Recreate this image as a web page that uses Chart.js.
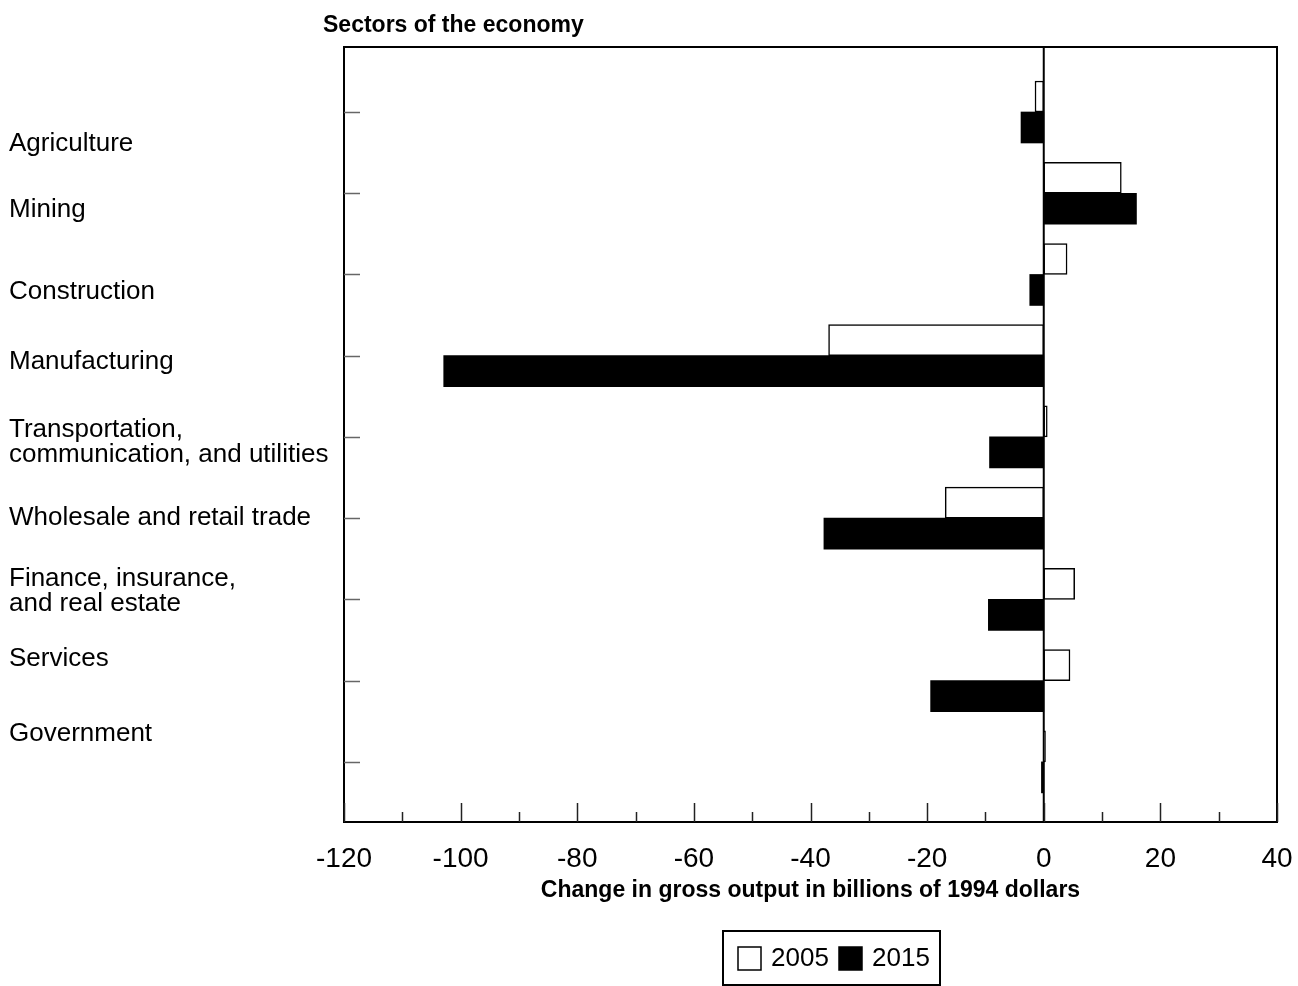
<!DOCTYPE html>
<html lang="en">
<head>
<meta charset="UTF-8" />
<title>Sectors of the economy</title>
<script src="https://cdn.jsdelivr.net/npm/chart.js"></script>
<style>
  body { margin: 0; background: #fff; }
  canvas { display: block; }
</style>
</head>
<body>
<canvas id="chart" width="1298" height="986"></canvas>
<script>
// data (billions of 1994 dollars)
const sectors = [
  ['Agriculture'],
  ['Mining'],
  ['Construction'],
  ['Manufacturing'],
  ['Transportation,', 'communication, and utilities'],
  ['Wholesale and retail trade'],
  ['Finance, insurance,', 'and real estate'],
  ['Services'],
  ['Government']
];
const years = ['2005', '2015'];
const change2005 = [-1.5, 13.3, 4.0, -36.9, 0.6, -16.9, 5.3, 4.5, 0.3];
const change2015 = [-3.9, 15.9, -2.4, -102.9, -9.3, -37.7, -9.5, -19.4, -0.4];
const xTicks = [-120, -100, -80, -60, -40, -20, 0, 20, 40];
const xMinorTicks = [-110, -90, -70, -50, -30, -10, 10, 30];

// label placement relative to each category tick (px)
const labelShift = [32, 17, 17, 6, 5, 0, -8, -22, -28];
const FONT = '"Liberation Sans", Arial, sans-serif';

const toPoints = vals => vals.map((v, i) => ({ x: v, y: i }));

const decor = {
  id: 'decor',
  afterDatasetsDraw(chart) {
    const { ctx, chartArea: a, scales: { x, y } } = chart;
    ctx.save();

    // zero line
    const x0 = x.getPixelForValue(0);
    ctx.strokeStyle = '#000';
    ctx.lineWidth = 2;
    ctx.beginPath();
    ctx.moveTo(x0, a.top);
    ctx.lineTo(x0, a.bottom);
    ctx.stroke();

    // frame
    ctx.lineWidth = 2;
    ctx.strokeRect(a.left, a.top, a.right - a.left, a.bottom - a.top);

    // x tick marks inside the frame
    ctx.strokeStyle = '#222';
    ctx.lineWidth = 1.5;
    xTicks.forEach(v => {
      const px = Math.round(x.getPixelForValue(v)) + 0.5;
      ctx.beginPath();
      ctx.moveTo(px, a.bottom);
      ctx.lineTo(px, a.bottom - 19);
      ctx.stroke();
    });
    xMinorTicks.forEach(v => {
      const px = Math.round(x.getPixelForValue(v)) + 0.5;
      ctx.beginPath();
      ctx.moveTo(px, a.bottom);
      ctx.lineTo(px, a.bottom - 10);
      ctx.stroke();
    });

    // y tick marks (one per category)
    ctx.strokeStyle = '#666';
    sectors.forEach((s, i) => {
      const py = Math.round(y.getPixelForValue(i)) + 0.5;
      ctx.beginPath();
      ctx.moveTo(a.left, py);
      ctx.lineTo(a.left + 16, py);
      ctx.stroke();
    });

    // category labels
    ctx.fillStyle = '#000';
    ctx.font = '26px ' + FONT;
    ctx.textAlign = 'left';
    ctx.textBaseline = 'middle';
    sectors.forEach((lines, i) => {
      const cy = y.getPixelForValue(i) + labelShift[i];
      const start = cy - (lines.length - 1) * 12.5;
      lines.forEach((t, k) => ctx.fillText(t, 9, start + k * 25));
    });

    // heading
    ctx.font = 'bold 23px ' + FONT;
    ctx.textBaseline = 'alphabetic';
    ctx.fillText('Sectors of the economy', 323, 32);

    // legend box
    const ds = chart.data.datasets;
    ctx.lineWidth = 2;
    ctx.strokeStyle = '#000';
    ctx.strokeRect(723, 931, 217, 54);
    ctx.font = '26px ' + FONT;
    ctx.textBaseline = 'middle';
    let lx = 738;
    ds.forEach(d => {
      ctx.fillStyle = d.backgroundColor;
      ctx.fillRect(lx, 947, 23, 23);
      ctx.lineWidth = 1.5;
      ctx.strokeRect(lx, 947, 23, 23);
      ctx.fillStyle = '#000';
      ctx.fillText(d.label, lx + 33, 959);
      lx += 101;
    });

    ctx.restore();
  }
};

new Chart(document.getElementById('chart'), {
  type: 'bar',
  data: {
    datasets: [
      {
        label: years[0],
        data: toPoints(change2005),
        backgroundColor: '#ffffff',
        borderColor: '#000000',
        borderWidth: 1.5,
        borderSkipped: false
      },
      {
        label: years[1],
        data: toPoints(change2015),
        backgroundColor: '#000000',
        borderColor: '#000000',
        borderWidth: 0
      }
    ]
  },
  options: {
    responsive: false,
    animation: false,
    devicePixelRatio: 1,
    indexAxis: 'y',
    barThickness: 31,
    layout: { padding: { left: 344, right: 21, top: 47, bottom: 0 } },
    plugins: {
      legend: { display: false },
      tooltip: { enabled: false }
    },
    scales: {
      x: {
        type: 'linear',
        min: -120,
        max: 40,
        afterBuildTicks: s => { s.ticks = xTicks.map(v => ({ value: v })); },
        afterFit: s => { s.height = 164; s.paddingLeft = 0; s.paddingRight = 0; },
        grid: { display: false, drawTicks: false },
        border: { display: false },
        ticks: {
          color: '#000',
          font: { family: FONT, size: 28 },
          padding: 20,
          maxRotation: 0,
          autoSkip: false
        },
        title: {
          display: true,
          text: 'Change in gross output in billions of 1994 dollars',
          color: '#000',
          font: { family: FONT, size: 23, weight: 'bold' },
          padding: { top: 0, bottom: 82 }
        }
      },
      y: {
        type: 'linear',
        display: false,
        reverse: true,
        offset: false,
        min: -0.8,
        max: 8.74
      }
    }
  },
  plugins: [decor]
});
</script>
</body>
</html>
